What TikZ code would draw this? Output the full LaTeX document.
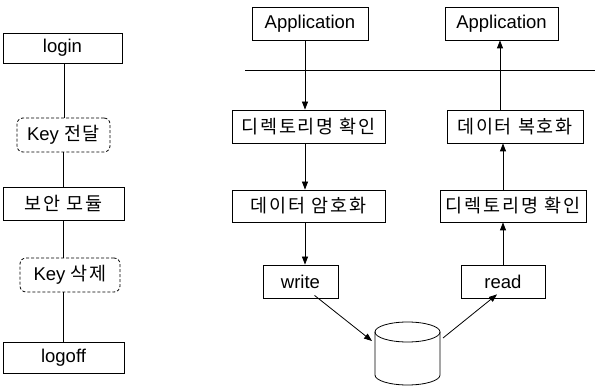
\documentclass[tikz,border=0pt]{standalone}
\usepackage{fontspec}
\setmainfont{Liberation Sans}
\newfontfamily\kr[LetterSpace=10]{Noto Sans CJK KR}
\usetikzlibrary{arrows.meta}
\tikzset{
  box/.style={draw, line width=0.8pt, inner sep=0pt, font=\fontsize{18.5}{22}\selectfont},
  dbox/.style={box, rounded corners=6pt, dash pattern=on 3pt off 2pt},
  link/.style={line width=0.8pt},
  arr/.style={line width=0.8pt, -{Triangle[length=8pt,width=6pt]}},
}
\begin{document}
\begin{tikzpicture}[x=1pt,y=-1pt]
\useasboundingbox (0,0) rectangle (595,387);
% session column
\node[box, minimum width=119pt, minimum height=30pt] (login) at (62.5,48) {login};
\node[dbox, minimum width=93pt, minimum height=34pt] (kd) at (63.5,135) {Key {\kr 전달}};
\node[box, minimum width=121pt, minimum height=33pt] (bm) at (63.5,203.5) {\kr 보안 모듈};
\node[dbox, minimum width=100pt, minimum height=34pt] (ks) at (70,275) {Key {\kr 삭제}};
\node[box, minimum width=121pt, minimum height=31pt] (logoff) at (63.5,357.5) {logoff};
\draw[link] ([xshift=1.5pt]login.south) -- ([xshift=1.5pt]login.south |- kd.north);
\draw[link] (kd.south) -- (kd.south |- bm.north);
\draw[link] (bm.south) -- (bm.south |- ks.north);
\draw[link] ([xshift=-6.5pt]ks.south) -- ([xshift=-6.5pt]ks.south |- logoff.north);
% boundary between application and file system
\coordinate (sepL) at (245,70);
\coordinate (sepR) at (595,70);
\draw[line width=0.6pt] (sepL) -- (sepR);
% write path
\node[box, minimum width=116pt, minimum height=33pt] (app1) at (310,23.5) {Application};
\node[box, minimum width=153pt, minimum height=33pt] (dir1) at (308.5,126.5) {\kr 디렉토리명 확인};
\node[box, minimum width=153pt, minimum height=32pt] (enc) at (308.5,206) {\kr 데이터 암호화};
\node[box, minimum width=75pt, minimum height=33pt] (write) at (300.5,281.5) {write};
% storage drum
\coordinate (dbtop) at (407.5,332);
\coordinate (dbbot) at (407.5,375);
\coordinate (dbin) at (372,341);
\coordinate (dbout) at (443,338);
\draw[line width=0.8pt] (dbtop) ellipse [x radius=32.5pt, y radius=10pt];
\draw[line width=0.8pt] ([xshift=-32.5pt]dbtop) -- ([xshift=-32.5pt]dbbot)
  arc[start angle=180, end angle=360, x radius=32.5pt, y radius=10pt]
  -- ([xshift=32.5pt]dbtop);
% read path
\node[box, minimum width=84pt, minimum height=33pt] (read) at (503,281.5) {read};
\node[box, minimum width=146pt, minimum height=32pt] (dir2) at (513,206) {\kr 디렉토리명 확인};
\node[box, minimum width=136pt, minimum height=33pt] (dec) at (515,126.5) {\kr 데이터 복호화};
\node[box, minimum width=113pt, minimum height=33pt] (app2) at (501.5,23.5) {Application};
% arrows
\draw[arr] ([xshift=-5pt]app1.south) -- ([xshift=-5pt]app1.south |- dir1.north);
\draw[arr] ([xshift=-3.5pt]dir1.south) -- ([xshift=-3.5pt]dir1.south |- enc.north);
\draw[arr] ([xshift=-3.5pt]enc.south) -- ([xshift=-3.5pt]enc.south |- write.north);
\draw[arr] ([xshift=14pt,yshift=3pt]write.south) -- (dbin);
\draw[arr] (dbout) -- ([xshift=-6pt,yshift=4pt]read.south);
\draw[arr] (read.north) -- (read.north |- dir2.south);
\draw[arr] ([xshift=-10pt]dir2.north) -- ([xshift=-10pt]dir2.north |- dec.south);
\draw[arr] ([xshift=-15pt]dec.north) -- ([xshift=-15pt]dec.north |- app2.south);
\end{tikzpicture}
\end{document}
